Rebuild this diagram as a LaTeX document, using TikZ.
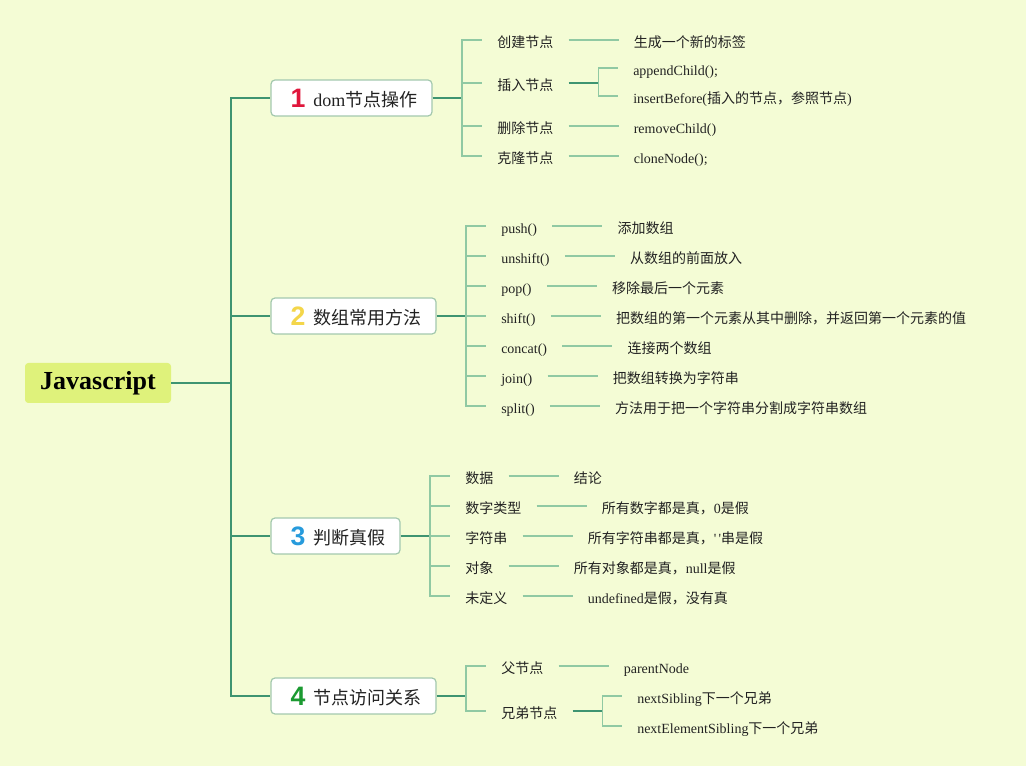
\documentclass[tikz,border=0pt]{standalone}
\usepackage{fontspec}
\setmainfont{Liberation Serif}
\newfontfamily\cjk{Noto Sans CJK SC}
\newfontfamily\rawserif{Liberation Serif}
\newfontfamily\digitfont{Liberation Sans}
\newcommand\zhs[1]{{\cjk #1}}
\usetikzlibrary{positioning}
\definecolor{bgc}{HTML}{F4FCD5}
\definecolor{rootc}{HTML}{DFF27B}
\definecolor{darkl}{HTML}{3E9471}
\definecolor{lightl}{HTML}{90C9A3}
\definecolor{boxb}{HTML}{A3C8AE}
\definecolor{txt}{HTML}{222222}
\definecolor{cone}{HTML}{E0163B}
\definecolor{ctwo}{HTML}{F4D64A}
\definecolor{cthree}{HTML}{279BDC}
\definecolor{cfour}{HTML}{1B9A31}
\begin{document}
\begin{tikzpicture}[x=0.75pt,y=-0.75pt,
 mainline/.style={draw=darkl,line width=1.4pt},
 subline/.style={draw=lightl,line width=1.1pt},
 rootbox/.style={fill=rootc,rounded corners=2.5pt,minimum width=109.5pt,minimum height=30pt,inner sep=0pt,text height=14pt,text depth=4pt,font=\bfseries\fontsize{19.5pt}{22pt}\selectfont,text=black},
 mainbox/.style={draw=boxb,fill=white,line width=0.9pt,rounded corners=3pt,minimum height=27pt,inner sep=0pt},
 digit/.style={inner sep=0pt,font=\digitfont\bfseries\fontsize{20pt}{22pt}\selectfont},
 maintext/.style={anchor=west,inner sep=0pt,yshift=-1.5pt,font=\cjk\fontsize{13.5pt}{16pt}\selectfont,text=txt},
 itm/.style={anchor=west,inner xsep=11.25pt,inner ysep=0.5pt,text height=12pt,text depth=1.3pt,font=\fontsize{10.5pt}{13pt}\selectfont,text=txt},
 leaf/.style={itm}]
\fill[bgc] (0,0) rectangle (1026,766);
\useasboundingbox (0,0) rectangle (1026,766);

% root
\node[rootbox] (root) at (98,383) {Javascript};
\coordinate (j0) at (231,383);

% main nodes
\node[mainbox,minimum width=120.75pt] (m1) at (351.5,98) {};
\node[digit,text=cone] (d1) at (298,98) {1};
\node[maintext] (t1) at (313,98) {{\rmfamily dom}节点操作};
\node[mainbox,minimum width=123.75pt] (m2) at (353.5,316) {};
\node[digit,text=ctwo] (d2) at (298,316) {2};
\node[maintext] (t2) at (313,316) {数组常用方法};
\node[mainbox,minimum width=96.75pt] (m3) at (335.5,536) {};
\node[digit,text=cthree] (d3) at (298,536) {3};
\node[maintext] (t3) at (313,536) {判断真假};
\node[mainbox,minimum width=123.75pt] (m4) at (353.5,696) {};
\node[digit,text=cfour] (d4) at (298,696) {4};
\node[maintext] (t4) at (313,696) {节点访问关系};

\draw[mainline] (root.east) -- (j0);
\foreach \m in {m1,m2,m3,m4} \draw[mainline] (j0) |- (\m.west);

% section 1
\coordinate (s1) at (462,98);
\draw[mainline] (m1.east) -- (s1);
\node[itm] (i11) at (482,40) {\zhs{创建节点}};
\node[itm] (i12) at (482,83) {\zhs{插入节点}};
\node[itm] (i13) at (482,126) {\zhs{删除节点}};
\node[itm] (i14) at (482,156) {\zhs{克隆节点}};
\foreach \n in {i11,i12,i13,i14} \draw[subline] (s1) |- (\n.west);
\node[leaf,right=37.5pt of i11] (l11) {\zhs{生成一个新的标签}};
\draw[subline] (i11.east) -- (l11.west);
\coordinate (k12) at ([xshift=22.5pt]i12.east);
\draw[mainline] (i12.east) -- (k12);
\node[leaf] (l12a) at (618,68) {appendChild();};
\node[leaf] (l12b) at (618,96) {insertBefore(\zhs{插入的节点，参照节点})};
\draw[subline] (k12) |- (l12a.west);
\draw[subline] (k12) |- (l12b.west);
\node[leaf,right=37.5pt of i13] (l13) {removeChild()};
\draw[subline] (i13.east) -- (l13.west);
\node[leaf,right=37.5pt of i14] (l14) {cloneNode();};
\draw[subline] (i14.east) -- (l14.west);

% section 2
\coordinate (s2) at (466,316);
\draw[mainline] (m2.east) -- (s2);
\node[itm] (i21) at (486,226) {push()};
\node[itm] (i22) at (486,256) {unshift()};
\node[itm] (i23) at (486,286) {pop()};
\node[itm] (i24) at (486,316) {shift()};
\node[itm] (i25) at (486,346) {concat()};
\node[itm] (i26) at (486,376) {join()};
\node[itm] (i27) at (486,406) {split()};
\foreach \n in {i21,i22,i23,i24,i25,i26,i27} \draw[subline] (s2) |- (\n.west);
\node[leaf,right=37.5pt of i21] (l21) {\zhs{添加数组}};
\node[leaf,right=37.5pt of i22] (l22) {\zhs{从数组的前面放入}};
\node[leaf,right=37.5pt of i23] (l23) {\zhs{移除最后一个元素}};
\node[leaf,right=37.5pt of i24] (l24) {\zhs{把数组的第一个元素从其中删除，并返回第一个元素的值}};
\node[leaf,right=37.5pt of i25] (l25) {\zhs{连接两个数组}};
\node[leaf,right=37.5pt of i26] (l26) {\zhs{把数组转换为字符串}};
\node[leaf,right=37.5pt of i27] (l27) {\zhs{方法用于把一个字符串分割成字符串数组}};
\foreach \n in {1,...,7} \draw[subline] (i2\n.east) -- (l2\n.west);

% section 3
\coordinate (s3) at (430,536);
\draw[mainline] (m3.east) -- (s3);
\node[itm] (i31) at (450,476) {\zhs{数据}};
\node[itm] (i32) at (450,506) {\zhs{数字类型}};
\node[itm] (i33) at (450,536) {\zhs{字符串}};
\node[itm] (i34) at (450,566) {\zhs{对象}};
\node[itm] (i35) at (450,596) {\zhs{未定义}};
\foreach \n in {i31,i32,i33,i34,i35} \draw[subline] (s3) |- (\n.west);
\node[leaf,right=37.5pt of i31] (l31) {\zhs{结论}};
\node[leaf,right=37.5pt of i32] (l32) {\zhs{所有数字都是真，}0\zhs{是假}};
\node[leaf,right=37.5pt of i33] (l33) {\zhs{所有字符串都是真，}{\rawserif '\,'}\zhs{串是假}};
\node[leaf,right=37.5pt of i34] (l34) {\zhs{所有对象都是真，}null\zhs{是假}};
\node[leaf,right=37.5pt of i35] (l35) {undefined\zhs{是假，没有真}};
\foreach \n in {1,...,5} \draw[subline] (i3\n.east) -- (l3\n.west);

% section 4
\coordinate (s4) at (466,696);
\draw[mainline] (m4.east) -- (s4);
\node[itm] (i41) at (486,666) {\zhs{父节点}};
\node[itm] (i42) at (486,711) {\zhs{兄弟节点}};
\foreach \n in {i41,i42} \draw[subline] (s4) |- (\n.west);
\node[leaf,right=37.5pt of i41] (l41) {parentNode};
\draw[subline] (i41.east) -- (l41.west);
\coordinate (k42) at ([xshift=22.5pt]i42.east);
\draw[mainline] (i42.east) -- (k42);
\node[leaf] (l42a) at (622,696) {nextSibling\zhs{下一个兄弟}};
\node[leaf] (l42b) at (622,726) {nextElementSibling\zhs{下一个兄弟}};
\draw[subline] (k42) |- (l42a.west);
\draw[subline] (k42) |- (l42b.west);
\end{tikzpicture}
\end{document}
